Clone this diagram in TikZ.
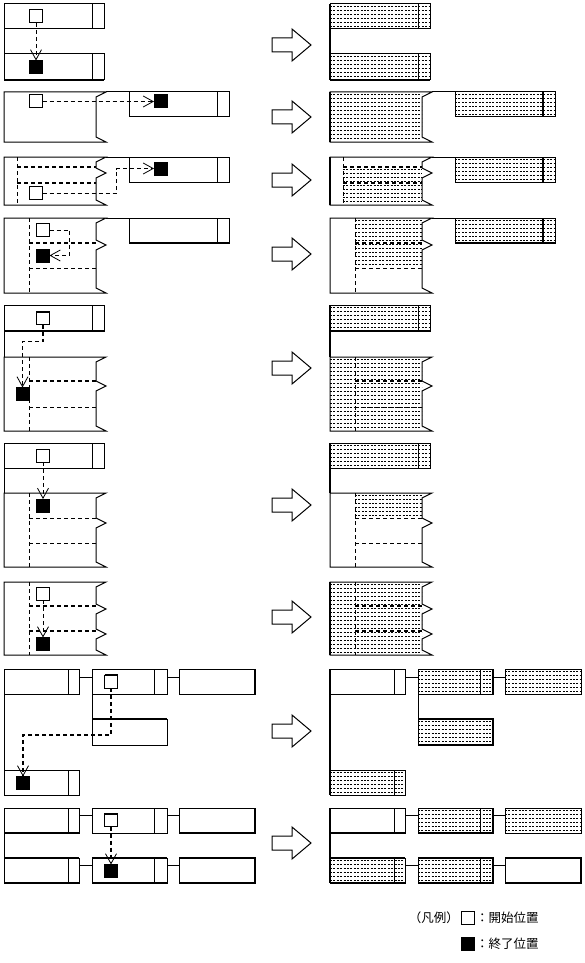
\documentclass[tikz,border=0pt]{standalone}
\usepackage{fontspec}
\newfontfamily\cjk{Noto Sans CJK JP}
\usetikzlibrary{arrows.meta,calc}
\tikzset{
 pg/.style={draw, line width=1pt, inner sep=0pt, outer sep=0pt, anchor=north west},
 sq/.style={draw, line width=1pt, minimum size=13pt, inner sep=0pt, outer sep=0pt},
 sqf/.style={sq, fill=black},
 thk/.style={line width=2pt},
 thn/.style={line width=1pt},
 dsh/.style={line width=1pt, dash pattern=on 4pt off 3pt},
 dshk/.style={line width=2pt, dash pattern=on 4pt off 3pt},
 arr/.style={dsh, -{Straight Barb[length=10pt,width=11pt,line width=0.8pt]}},
 arrk/.style={line width=1.6pt, dash pattern=on 4pt off 3pt, -{Straight Barb[length=10pt,width=11pt,line width=0.8pt]}},
 hatchline/.style={line width=0.7pt, dash pattern=on 2pt off 1.4pt},
 big/.style={draw, line width=1pt, line join=miter},
 lgtext/.style={inner sep=0pt, font=\cjk\fontsize{12.5}{14}\selectfont}
}
\newcommand\pg[5]{\node[pg, minimum width=#4pt, minimum height=#5pt] (#1) at (#2,#3) {};}
\newcommand\dv[2]{\draw[thn] ([xshift=-#2pt]#1.north east) -- ([xshift=-#2pt]#1.south east);}
\newcommand\dvk[2]{\draw[thk] ([xshift=-#2pt]#1.north east) -- ([xshift=-#2pt]#1.south east);}
\newcommand\hatch[4]{%
 \begin{scope}
 \clip (#1,#2) rectangle (#3,#4);
 \pgfmathsetmacro\hya{#2+2.5}\pgfmathsetmacro\hyb{#2+6.5}
 \foreach \yy in {\hya,\hyb,...,#4} \draw[hatchline] (#1,\yy) -- (#3,\yy);
 \end{scope}}
\newcommand\bigarr[1]{\draw[big] (272,{#1-7}) -- (292,{#1-7}) -- (292,{#1-16}) -- (311,#1) -- (292,{#1+16}) -- (292,{#1+7}) -- (272,{#1+7}) -- cycle;}
\begin{document}
\begin{tikzpicture}[x=1pt,y=-1pt]
\useasboundingbox (0,0) rectangle (585,963);

% ================= LEFT SIDE =================
\begin{scope}[name prefix=L-]
% Row 1
\pg{a1}{4}{4}{100}{25} \dv{a1}{12}
\pg{b1}{4}{54}{100}{26} \dv{b1}{12}
\draw[thk] (b1.south west) -- (b1.south east);
\draw[thn] (a1.south west) -- (b1.north west);
\node[sq] (s1) at (36,16.5) {};
\node[sqf] (e1) at (36,67) {};
\draw[arr] (s1.south) -- (e1.north);
% Row 2
\draw[thn] (4,92) -- (106,92) -- (96,97) -- (96,137) -- (106,142) -- (4,142) -- cycle;
\pg{c2}{129}{92}{100}{25} \dv{c2}{12}
\draw[thn] (106,92) -- (c2.north west);
\node[sq] (s2) at (36,101.5) {};
\node[sqf] (e2) at (160.5,101.5) {};
\draw[arr] (s2.east) -- (e2.west);
% Row 3
\draw[thn] (4,157) -- (106,157) -- (96,162) -- (96,168) -- (106,173) -- (96,178) -- (96,200) -- (106,205) -- (4,205) -- cycle;
\pg{c3}{129}{157}{100}{25} \dv{c3}{12}
\draw[thn] (106,157) -- (c3.north west);
\draw[dsh] (17,157) -- (17,205);
\draw[dshk] (17,167) -- (96,167);
\draw[dshk] (17,183) -- (96,183);
\node[sq] (s3) at (36,193) {};
\node[sqf] (e3) at (160.5,168.5) {};
\draw[arr] (s3.east) -- ++(74,0) |- (e3.west);
% Row 4
\draw[thn] (4,218) -- (106,218) -- (96,223) -- (96,240) -- (106,245) -- (96,250) -- (96,288) -- (106,293) -- (4,293) -- cycle;
\pg{c4}{129}{218}{100}{25} \dv{c4}{12}
\draw[thk] (c4.south west) -- (c4.south east);
\draw[thn] (106,218) -- (c4.north west);
\draw[dsh] (29,218) -- (29,293);
\draw[dshk] (29,243) -- (96,243);
\draw[dsh] (29,268) -- (96,268);
\node[sq] (s4) at (43,230) {};
\node[sqf] (e4) at (43,255.5) {};
\draw[arr] (s4.east) -- ++(20,0) |- (e4.east);
% Row 5
\pg{a5}{4}{305}{100}{26} \dv{a5}{12}
\draw[thk] (a5.south west) -- (a5.south east);
\draw[thn] (4,331) -- (4,357);
\draw[thn] (4,357) -- (106,357) -- (96,362) -- (96,381) -- (106,386) -- (96,391) -- (96,426) -- (106,431) -- (4,431) -- cycle;
\draw[dsh] (29,357) -- (29,431);
\draw[dshk] (29,381) -- (96,381);
\draw[dsh] (29,407) -- (96,407);
\node[sq] (s5) at (43,318) {};
\draw[thk] (s5.north west) -- (s5.north east);
\node[sqf] (e5) at (22.5,394) {};
\draw[arrk] (s5.south) -- ++(0,17) -| (e5.north);
% Row 6
\pg{a6}{4}{443}{100}{25} \dv{a6}{12}
\draw[thn] (4,468) -- (4,493);
\draw[thn] (4,493) -- (106,493) -- (96,498) -- (96,518) -- (106,523) -- (96,528) -- (96,562) -- (106,567) -- (4,567) -- cycle;
\draw[dsh] (29,493) -- (29,567);
\draw[dsh] (29,518) -- (96,518);
\draw[dsh] (29,543) -- (96,543);
\node[sq] (s6) at (43,455.5) {};
\node[sqf] (e6) at (43,505.5) {};
\draw[arr] (s6.south) -- (e6.north);
% Row 7
\draw[thn] (4,582) -- (106,582) -- (96,587) -- (96,604) -- (106,609) -- (96,614) -- (96,629) -- (106,634) -- (96,639) -- (96,650) -- (106,655) -- (4,655) -- cycle;
\draw[dsh] (29,582) -- (29,655);
\draw[dshk] (29,606) -- (96,606);
\draw[dshk] (29,631) -- (96,631);
\node[sq] (s7) at (43,593.5) {};
\node[sqf] (e7) at (43,644) {};
\draw[arr] (s7.south) -- (e7.north);
% Row 8
\pg{a8}{4}{669}{75}{25} \dv{a8}{11}
\pg{b8}{92}{669}{75}{25} \dv{b8}{13}
\pg{c8}{179}{669}{76}{25}
\draw[thk] (c8.north east) -- (c8.south east);
\pg{d8}{92}{719}{75}{26}
\draw[thk] (d8.north west) -- (d8.north east);
\pg{f8}{4}{770}{75}{25} \dv{f8}{11}
\draw[thn] ([yshift=-8pt]a8.north east) -- ([yshift=-8pt]b8.north west);
\draw[thn] ([yshift=-8pt]b8.north east) -- ([yshift=-8pt]c8.north west);
\draw[thn] (b8.south west) -- (d8.north west);
\draw[thn] (a8.south west) -- (f8.north west);
\node[sq] (s8) at (111,681.5) {};
\draw[thk] (s8.north west) -- (s8.north east);
\node[sqf] (e8) at (23,783) {};
\draw[arrk] (s8.south) -- ++(0,47) -| (e8.north);
% Row 9
\pg{a9}{4}{808}{75}{25} \dv{a9}{11}
\pg{b9}{92}{808}{75}{25} \dv{b9}{13}
\pg{c9}{179}{808}{76}{25}
\pg{d9}{4}{858}{75}{25} \dv{d9}{11}
\pg{f9}{92}{858}{75}{25} \dv{f9}{13}
\pg{g9}{179}{858}{76}{25}
\draw[thk] (a9.south west) -- (a9.south east);
\draw[thk] (c9.south west) -- (c9.south east) -- (c9.north east);
\draw[thk] (d9.north west) -- (d9.north east);
\draw[thk] (d9.south west) -- (d9.south east);
\draw[thk] (f9.north west) -- (f9.north east);
\draw[thk] (f9.south west) -- (f9.south east);
\draw[thk] (g9.north west) -- (g9.north east) -- (g9.south east) -- (g9.south west);
\draw[thn] ([yshift=-7pt]a9.north east) -- ([yshift=-7pt]b9.north west);
\draw[thn] ([yshift=-7pt]b9.north east) -- ([yshift=-7pt]c9.north west);
\draw[thn] ([yshift=-7pt]d9.north east) -- ([yshift=-7pt]f9.north west);
\draw[thn] ([yshift=-7pt]f9.north east) -- ([yshift=-7pt]g9.north west);
\draw[thn] (a9.south west) -- (d9.north west);
\node[sq] (s9) at (111,820) {};
\draw[thk] (s9.north west) -- (s9.north east);
\node[sqf] (e9) at (111,871) {};
\draw[arrk] (s9.south) -- (e9.north);
\end{scope}

% ================= BIG ARROWS =================
\bigarr{45}
\bigarr{117}
\bigarr{180}
\bigarr{254}
\bigarr{368}
\bigarr{505}
\bigarr{617}
\bigarr{731}
\bigarr{843}

% ================= RIGHT SIDE =================
\begin{scope}[xshift=326pt, name prefix=R-]
% Row 1
\hatch{4}{4}{104}{29}
\hatch{4}{54}{104}{80}
\pg{a1}{4}{4}{100}{25} \dv{a1}{12}
\pg{b1}{4}{54}{100}{26} \dv{b1}{12}
\draw[thk] (b1.south west) -- (b1.south east);
\draw[thk] (a1.north west) -- (b1.south west);
% Row 2
\hatch{4}{92}{96}{142}
\hatch{129}{92}{229}{117}
\draw[thn] (4,92) -- (106,92) -- (96,97) -- (96,137) -- (106,142) -- (4,142) -- cycle;
\draw[thk] (4,92) -- (4,142);
\pg{c2}{129}{92}{100}{25} \dvk{c2}{12}
\draw[thn] (106,92) -- (c2.north west);
% Row 3
\hatch{17}{167}{96}{205}
\hatch{129}{157}{229}{182}
\draw[thn] (4,157) -- (106,157) -- (96,162) -- (96,168) -- (106,173) -- (96,178) -- (96,200) -- (106,205) -- (4,205) -- cycle;
\draw[thk] (4,157) -- (4,205);
\pg{c3}{129}{157}{100}{25} \dvk{c3}{12}
\draw[thn] (106,157) -- (c3.north west);
\draw[dsh] (17,157) -- (17,205);
\draw[dshk] (17,167) -- (96,167);
\draw[dshk] (17,183) -- (96,183);
% Row 4
\hatch{29}{218}{96}{268}
\hatch{129}{218}{229}{243}
\draw[thn] (4,218) -- (106,218) -- (96,223) -- (96,240) -- (106,245) -- (96,250) -- (96,288) -- (106,293) -- (4,293) -- cycle;
\pg{c4}{129}{218}{100}{25} \dvk{c4}{12}
\draw[thk] (c4.south west) -- (c4.south east);
\draw[thn] (106,218) -- (c4.north west);
\draw[dsh] (29,218) -- (29,293);
\draw[dshk] (29,243) -- (96,243);
\draw[dsh] (29,268) -- (96,268);
% Row 5
\hatch{4}{305}{104}{331}
\hatch{4}{357}{96}{431}
\pg{a5}{4}{305}{100}{26} \dv{a5}{12}
\draw[thk] (a5.south west) -- (a5.south east);
\draw[thk] (4,305) -- (4,357);
\draw[thn] (4,357) -- (106,357) -- (96,362) -- (96,381) -- (106,386) -- (96,391) -- (96,426) -- (106,431) -- (4,431) -- cycle;
\draw[dsh] (29,357) -- (29,431);
\draw[dshk] (29,381) -- (96,381);
\draw[dsh] (29,407) -- (96,407);
% Row 6
\hatch{4}{443}{104}{468}
\hatch{29}{493}{96}{518}
\pg{a6}{4}{443}{100}{25} \dv{a6}{12}
\draw[thk] (4,443) -- (4,493);
\draw[thn] (4,493) -- (106,493) -- (96,498) -- (96,518) -- (106,523) -- (96,528) -- (96,562) -- (106,567) -- (4,567) -- cycle;
\draw[dsh] (29,493) -- (29,567);
\draw[dsh] (29,518) -- (96,518);
\draw[dsh] (29,543) -- (96,543);
% Row 7
\hatch{4}{582}{96}{655}
\draw[thn] (4,582) -- (106,582) -- (96,587) -- (96,604) -- (106,609) -- (96,614) -- (96,629) -- (106,634) -- (96,639) -- (96,650) -- (106,655) -- (4,655) -- cycle;
\draw[thk] (4,582) -- (4,655);
\draw[dsh] (29,582) -- (29,655);
\draw[dshk] (29,606) -- (96,606);
\draw[dshk] (29,631) -- (96,631);
% Row 8
\hatch{92}{669}{167}{694}
\hatch{179}{669}{255}{694}
\hatch{92}{719}{167}{745}
\hatch{4}{770}{79}{795}
\pg{a8}{4}{669}{75}{25} \dv{a8}{11}
\pg{b8}{92}{669}{75}{25} \dv{b8}{13}
\pg{c8}{179}{669}{76}{25}
\pg{d8}{92}{719}{75}{26}
\pg{f8}{4}{770}{75}{25} \dv{f8}{11}
\draw[thk] (b8.north east) -- (b8.south east);
\draw[thk] (d8.north west) -- (d8.north east) -- (d8.south east) -- (d8.south west);
\draw[thn] ([yshift=-8pt]a8.north east) -- ([yshift=-8pt]b8.north west);
\draw[thn] ([yshift=-8pt]b8.north east) -- ([yshift=-8pt]c8.north west);
\draw[thn] (b8.south west) -- (d8.north west);
\draw[thk] (a8.north west) -- (f8.south west);
% Row 9
\hatch{92}{808}{167}{833}
\hatch{179}{808}{255}{833}
\hatch{4}{858}{79}{883}
\hatch{92}{858}{167}{883}
\pg{a9}{4}{808}{75}{25} \dv{a9}{11}
\pg{b9}{92}{808}{75}{25} \dv{b9}{13}
\pg{c9}{179}{808}{76}{25}
\pg{d9}{4}{858}{75}{25} \dv{d9}{11}
\pg{f9}{92}{858}{75}{25} \dv{f9}{13}
\pg{g9}{179}{858}{76}{25}
\draw[thk] (a9.south west) -- (a9.south east);
\draw[thk] (b9.north east) -- (b9.south east) -- (b9.south west);
\draw[thk] (d9.north west) -- (d9.north east);
\draw[thk] (d9.south west) -- (d9.south east);
\draw[thk] (f9.north west) -- (f9.north east) -- (f9.south east) -- (f9.south west);
\draw[thk] (g9.north west) -- (g9.north east) -- (g9.south east) -- (g9.south west);
\draw[thn] ([yshift=-7pt]a9.north east) -- ([yshift=-7pt]b9.north west);
\draw[thn] ([yshift=-7pt]b9.north east) -- ([yshift=-7pt]c9.north west);
\draw[thn] ([yshift=-7pt]d9.north east) -- ([yshift=-7pt]f9.north west);
\draw[thn] ([yshift=-7pt]f9.north east) -- ([yshift=-7pt]g9.north west);
\draw[thk] (a9.north west) -- (d9.south west);
\end{scope}

% ================= LEGEND =================
\node[sq] (lg1) at (467.5,918) {};
\node[sqf] (lg2) at (467.5,944) {};
\node[lgtext, anchor=east] (lgt) at (459,918) {（凡例）};
\node[lgtext, anchor=west] (lgs) at (476,918) {：開始位置};
\node[lgtext, anchor=west] (lge) at (476,944) {：終了位置};
\end{tikzpicture}
\end{document}
